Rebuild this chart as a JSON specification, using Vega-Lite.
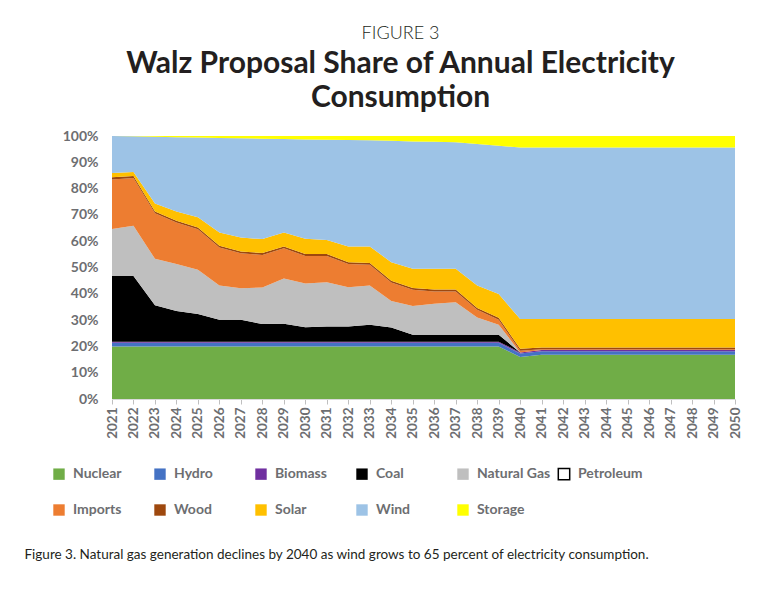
{
  "$schema": "https://vega.github.io/schema/vega-lite/v6.json",
  "autosize": "none",
  "width": 623,
  "height": 263,
  "padding": {"left": 112, "top": 136, "right": 40, "bottom": 197},
  "background": "white",
  "title": {
    "text": "FIGURE 3",
    "subtitle": ["Walz Proposal Share of Annual Electricity", "Consumption"],
    "anchor": "middle",
    "frame": "group",
    "dx": -23,
    "offset": 16,
    "font": "Lato",
    "fontSize": 18,
    "fontWeight": 300,
    "color": "#231f20",
    "subtitleFont": "Lato",
    "subtitleFontSize": 30,
    "subtitleFontWeight": "bold",
    "subtitleColor": "#231f20",
    "subtitleLineHeight": 34,
    "subtitlePadding": 6
  },
  "data": {
    "values": [
      {"year": 2021, "Nuclear": 20, "Hydro": 1.4, "Biomass": 0.4, "Coal": 25, "Natural Gas": 17.8, "Petroleum": 0, "Imports": 18.9, "Wood": 0.8, "Solar": 1.6, "Wind": 14.1, "Storage": 0},
      {"year": 2022, "Nuclear": 20, "Hydro": 1.4, "Biomass": 0.4, "Coal": 25, "Natural Gas": 19.1, "Petroleum": 0, "Imports": 18.1, "Wood": 0.8, "Solar": 1.5, "Wind": 13.6, "Storage": 0.1},
      {"year": 2023, "Nuclear": 20, "Hydro": 1.4, "Biomass": 0.4, "Coal": 13.8, "Natural Gas": 17.7, "Petroleum": 0, "Imports": 17.3, "Wood": 0.7, "Solar": 3.0, "Wind": 25.4, "Storage": 0.3},
      {"year": 2024, "Nuclear": 20, "Hydro": 1.4, "Biomass": 0.4, "Coal": 11.7, "Natural Gas": 17.8, "Petroleum": 0, "Imports": 15.8, "Wood": 0.7, "Solar": 3.5, "Wind": 28.2, "Storage": 0.5},
      {"year": 2025, "Nuclear": 20, "Hydro": 1.4, "Biomass": 0.4, "Coal": 10.5, "Natural Gas": 16.8, "Petroleum": 0, "Imports": 15.4, "Wood": 0.7, "Solar": 3.9, "Wind": 30.3, "Storage": 0.6},
      {"year": 2026, "Nuclear": 20, "Hydro": 1.4, "Biomass": 0.4, "Coal": 8.3, "Natural Gas": 13.1, "Petroleum": 0, "Imports": 14.4, "Wood": 0.7, "Solar": 5.0, "Wind": 35.9, "Storage": 0.8},
      {"year": 2027, "Nuclear": 20, "Hydro": 1.4, "Biomass": 0.4, "Coal": 8.3, "Natural Gas": 12.0, "Petroleum": 0, "Imports": 13.3, "Wood": 0.7, "Solar": 5.3, "Wind": 37.7, "Storage": 0.9},
      {"year": 2028, "Nuclear": 20, "Hydro": 1.4, "Biomass": 0.4, "Coal": 6.7, "Natural Gas": 13.9, "Petroleum": 0, "Imports": 12.4, "Wood": 0.7, "Solar": 5.3, "Wind": 38.2, "Storage": 1.0},
      {"year": 2029, "Nuclear": 20, "Hydro": 1.4, "Biomass": 0.4, "Coal": 6.8, "Natural Gas": 17.2, "Petroleum": 0, "Imports": 11.5, "Wood": 0.7, "Solar": 5.3, "Wind": 35.6, "Storage": 1.1},
      {"year": 2030, "Nuclear": 20, "Hydro": 1.4, "Biomass": 0.4, "Coal": 5.5, "Natural Gas": 16.6, "Petroleum": 0, "Imports": 10.5, "Wood": 0.7, "Solar": 5.8, "Wind": 37.8, "Storage": 1.3},
      {"year": 2031, "Nuclear": 20, "Hydro": 1.4, "Biomass": 0.4, "Coal": 5.8, "Natural Gas": 16.8, "Petroleum": 0, "Imports": 10.0, "Wood": 0.7, "Solar": 5.4, "Wind": 38.1, "Storage": 1.4},
      {"year": 2032, "Nuclear": 20, "Hydro": 1.4, "Biomass": 0.4, "Coal": 5.8, "Natural Gas": 14.9, "Petroleum": 0, "Imports": 8.8, "Wood": 0.7, "Solar": 6.0, "Wind": 40.5, "Storage": 1.5},
      {"year": 2033, "Nuclear": 20, "Hydro": 1.4, "Biomass": 0.4, "Coal": 6.4, "Natural Gas": 15.0, "Petroleum": 0, "Imports": 7.8, "Wood": 0.7, "Solar": 6.3, "Wind": 40.4, "Storage": 1.6},
      {"year": 2034, "Nuclear": 20, "Hydro": 1.4, "Biomass": 0.4, "Coal": 5.4, "Natural Gas": 10.1, "Petroleum": 0, "Imports": 7.0, "Wood": 0.7, "Solar": 7.0, "Wind": 46.2, "Storage": 1.8},
      {"year": 2035, "Nuclear": 20, "Hydro": 1.4, "Biomass": 0.4, "Coal": 2.6, "Natural Gas": 11.0, "Petroleum": 0, "Imports": 6.1, "Wood": 0.7, "Solar": 7.3, "Wind": 48.4, "Storage": 2.1},
      {"year": 2036, "Nuclear": 20, "Hydro": 1.4, "Biomass": 0.4, "Coal": 2.6, "Natural Gas": 11.8, "Petroleum": 0, "Imports": 4.7, "Wood": 0.7, "Solar": 7.9, "Wind": 48.3, "Storage": 2.2},
      {"year": 2037, "Nuclear": 20, "Hydro": 1.4, "Biomass": 0.4, "Coal": 2.6, "Natural Gas": 12.4, "Petroleum": 0, "Imports": 4.1, "Wood": 0.7, "Solar": 7.9, "Wind": 48.1, "Storage": 2.4},
      {"year": 2038, "Nuclear": 20, "Hydro": 1.4, "Biomass": 0.4, "Coal": 2.6, "Natural Gas": 6.6, "Petroleum": 0, "Imports": 2.9, "Wood": 0.7, "Solar": 8.6, "Wind": 53.8, "Storage": 3.0},
      {"year": 2039, "Nuclear": 20, "Hydro": 1.4, "Biomass": 0.4, "Coal": 2.6, "Natural Gas": 3.8, "Petroleum": 0, "Imports": 1.9, "Wood": 0.8, "Solar": 9.0, "Wind": 56.4, "Storage": 3.7},
      {"year": 2040, "Nuclear": 16, "Hydro": 1.3, "Biomass": 0.4, "Coal": 0, "Natural Gas": 0, "Petroleum": 0, "Imports": 0.6, "Wood": 0.8, "Solar": 11.3, "Wind": 65.2, "Storage": 4.4},
      {"year": 2041, "Nuclear": 16.8, "Hydro": 1.4, "Biomass": 0.4, "Coal": 0, "Natural Gas": 0, "Petroleum": 0, "Imports": 0.3, "Wood": 0.7, "Solar": 10.8, "Wind": 65.2, "Storage": 4.4},
      {"year": 2042, "Nuclear": 16.8, "Hydro": 1.4, "Biomass": 0.4, "Coal": 0, "Natural Gas": 0, "Petroleum": 0, "Imports": 0.3, "Wood": 0.7, "Solar": 10.8, "Wind": 65.2, "Storage": 4.4},
      {"year": 2043, "Nuclear": 16.8, "Hydro": 1.4, "Biomass": 0.4, "Coal": 0, "Natural Gas": 0, "Petroleum": 0, "Imports": 0.3, "Wood": 0.7, "Solar": 10.8, "Wind": 65.2, "Storage": 4.4},
      {"year": 2044, "Nuclear": 16.8, "Hydro": 1.4, "Biomass": 0.4, "Coal": 0, "Natural Gas": 0, "Petroleum": 0, "Imports": 0.3, "Wood": 0.7, "Solar": 10.8, "Wind": 65.2, "Storage": 4.4},
      {"year": 2045, "Nuclear": 16.8, "Hydro": 1.4, "Biomass": 0.4, "Coal": 0, "Natural Gas": 0, "Petroleum": 0, "Imports": 0.3, "Wood": 0.7, "Solar": 10.8, "Wind": 65.2, "Storage": 4.4},
      {"year": 2046, "Nuclear": 16.8, "Hydro": 1.4, "Biomass": 0.4, "Coal": 0, "Natural Gas": 0, "Petroleum": 0, "Imports": 0.3, "Wood": 0.7, "Solar": 10.8, "Wind": 65.2, "Storage": 4.4},
      {"year": 2047, "Nuclear": 16.8, "Hydro": 1.4, "Biomass": 0.4, "Coal": 0, "Natural Gas": 0, "Petroleum": 0, "Imports": 0.3, "Wood": 0.7, "Solar": 10.8, "Wind": 65.2, "Storage": 4.4},
      {"year": 2048, "Nuclear": 16.8, "Hydro": 1.4, "Biomass": 0.4, "Coal": 0, "Natural Gas": 0, "Petroleum": 0, "Imports": 0.3, "Wood": 0.7, "Solar": 10.8, "Wind": 65.2, "Storage": 4.4},
      {"year": 2049, "Nuclear": 16.8, "Hydro": 1.4, "Biomass": 0.4, "Coal": 0, "Natural Gas": 0, "Petroleum": 0, "Imports": 0.3, "Wood": 0.7, "Solar": 10.8, "Wind": 65.2, "Storage": 4.4},
      {"year": 2050, "Nuclear": 16.8, "Hydro": 1.4, "Biomass": 0.4, "Coal": 0, "Natural Gas": 0, "Petroleum": 0, "Imports": 0.3, "Wood": 0.7, "Solar": 10.8, "Wind": 65.2, "Storage": 4.4}
    ]
  },
  "transform": [
    {"fold": ["Nuclear", "Hydro", "Biomass", "Coal", "Natural Gas", "Petroleum", "Imports", "Wood", "Solar", "Wind", "Storage"], "as": ["source", "share"]},
    {"calculate": "indexof(['Nuclear', 'Hydro', 'Biomass', 'Coal', 'Natural Gas', 'Petroleum', 'Imports', 'Wood', 'Solar', 'Wind', 'Storage'], datum.source)", "as": "stackRank"}
  ],
  "mark": {"type": "area", "interpolate": "linear"},
  "encoding": {
    "x": {
      "field": "year",
      "type": "ordinal",
      "scale": {"type": "point", "padding": 0},
      "axis": {
        "title": "Figure 3. Natural gas generation declines by 2040 as wind grows to 65 percent of electricity consumption.",
        "titleFont": "Lato",
        "titleFontSize": 13.5,
        "titleFontWeight": "normal",
        "titleColor": "#231f20",
        "titleAnchor": "start",
        "titleAlign": "left",
        "titleBaseline": "middle",
        "titleX": -88,
        "titleY": 155,
        "labelAngle": -90,
        "labelFont": "Lato",
        "labelFontSize": 13.5,
        "labelFontWeight": "bold",
        "labelColor": "#6d6e71",
        "labelPadding": 3,
        "tickSize": 5,
        "tickColor": "#bfbfbf",
        "domainColor": "#d9d9d9",
        "grid": false
      }
    },
    "y": {
      "field": "share",
      "type": "quantitative",
      "stack": "normalize",
      "scale": {"domain": [0, 1]},
      "axis": {
        "title": null,
        "format": ".0%",
        "values": [0, 0.1, 0.2, 0.3, 0.4, 0.5, 0.6, 0.7, 0.8, 0.9, 1],
        "labelFont": "Lato",
        "labelFontSize": 14,
        "labelFontWeight": "bold",
        "labelColor": "#6d6e71",
        "labelPadding": 14,
        "ticks": false,
        "domain": false,
        "grid": false
      }
    },
    "color": {
      "field": "source",
      "type": "nominal",
      "sort": ["Nuclear", "Hydro", "Biomass", "Coal", "Natural Gas", "Petroleum", "Imports", "Wood", "Solar", "Wind", "Storage"],
      "scale": {
        "domain": ["Nuclear", "Hydro", "Biomass", "Coal", "Natural Gas", "Petroleum", "Imports", "Wood", "Solar", "Wind", "Storage"],
        "range": ["#70ad47", "#4472c4", "#7030a0", "#000000", "#bfbfbf", "#ffffff", "#ed7d31", "#9e480e", "#ffc000", "#9dc3e6", "#ffff00"]
      },
      "legend": {
        "title": null,
        "orient": "none",
        "legendX": -60,
        "legendY": 331,
        "direction": "horizontal",
        "columns": 6,
        "gridAlign": "all",
        "columnPadding": 4,
        "rowPadding": 18,
        "padding": 0,
        "symbolType": "square",
        "symbolSize": 130,
        "symbolOffset": 0,
        "labelOffset": 7,
        "labelFont": "Lato",
        "labelFontSize": 14,
        "labelFontWeight": "bold",
        "labelColor": "#6d6e71",
        "labelLimit": 200,
        "encode": {
          "symbols": {
            "update": {
              "stroke": {"signal": "datum.value === 'Petroleum' ? '#000000' : 'transparent'"},
              "strokeWidth": {"value": 1.5}
            }
          }
        }
      }
    },
    "order": {"field": "stackRank", "type": "quantitative", "sort": "ascending"}
  },
  "config": {"view": {"stroke": null}}
}
